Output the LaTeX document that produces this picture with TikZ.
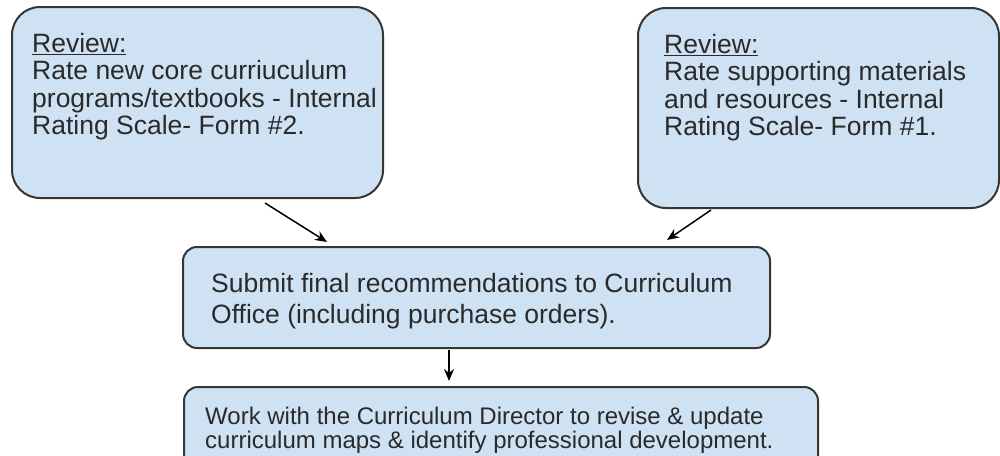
\documentclass[tikz,border=0pt]{standalone}
\usepackage{fontspec}
\setmainfont{Liberation Sans}
\usetikzlibrary{arrows.meta}
\definecolor{boxblue}{HTML}{CFE2F3}
\definecolor{boxrim}{HTML}{363636}
\definecolor{ink}{HTML}{2A2A2A}
\tikzstyle{review box}=[draw=boxrim,fill=boxblue,line width=2pt,rounded corners=28pt]
\tikzstyle{flow box}=[review box,rounded corners=14pt]
\tikzstyle{box text}=[anchor=north west,inner sep=0pt,align=left,text=ink]
\tikzstyle{link}=[draw,line width=1.5pt,-{Stealth[length=12pt,width=10pt]}]
\newcommand{\bigtext}{\fontsize{26.5}{27.5}\selectfont}

\begin{document}
\begin{tikzpicture}[x=1pt,y=-1pt]
    \path[use as bounding box,clip] (0,0) rectangle (1000,455);
    % First the two review boxes on top
    \foreach \pos/\name/\bw/\bh in {{(197.5,102.5)/corebox/371/191},{(818.5,108)/suppbox/361/200}}
        \node[review box,minimum width=\bw pt,minimum height=\bh pt] (\name) at \pos {};
    % Then the two steps below them
    \foreach \pos/\name/\bw/\bh in {{(476.5,297.5)/submitbox/587/101},{(501,432)/workbox/634/90}}
        \node[flow box,minimum width=\bw pt,minimum height=\bh pt] (\name) at \pos {};

    % Texts of the boxes
    \node[box text,font=\bigtext] (coretext) at (32,33)
        {\underline{Review:}\\Rate new core curriuculum\\programs/textbooks - Internal\\Rating Scale- Form \#2.};
    \node[box text,font=\bigtext] (supptext) at (664,34)
        {\underline{Review:}\\Rate supporting materials\\and resources - Internal\\Rating Scale- Form \#1.};
    \node[box text,font=\fontsize{26.5}{31}\selectfont] (submittext) at (211,273)
        {Submit final recommendations to Curriculum\\Office (including purchase orders).};
    \node[box text,font=\fontsize{24}{23.5}\selectfont] (worktext) at (205,407)
        {Work with the Curriculum Director to revise \& update\\curriculum maps \& identify professional development.};

    % Connect the boxes with arrows
    \coordinate (coreout) at ([shift={(67.5,4)}]corebox.south);
    \coordinate (suppout) at ([shift={(-107.5,1)}]suppbox.south);
    \coordinate (submitout) at ([shift={(-27.5,1)}]submitbox.south);
    \coordinate (submitinl) at ([shift={(-149.5,-4)}]submitbox.north);
    \coordinate (submitinr) at ([shift={(190.5,-6)}]submitbox.north);
    \coordinate (workin) at ([shift={(-52,-5)}]workbox.north);
    \foreach \source/\dest in {coreout/submitinl,suppout/submitinr,submitout/workin}
        \path[link] (\source) -- (\dest);
\end{tikzpicture}
\end{document}
